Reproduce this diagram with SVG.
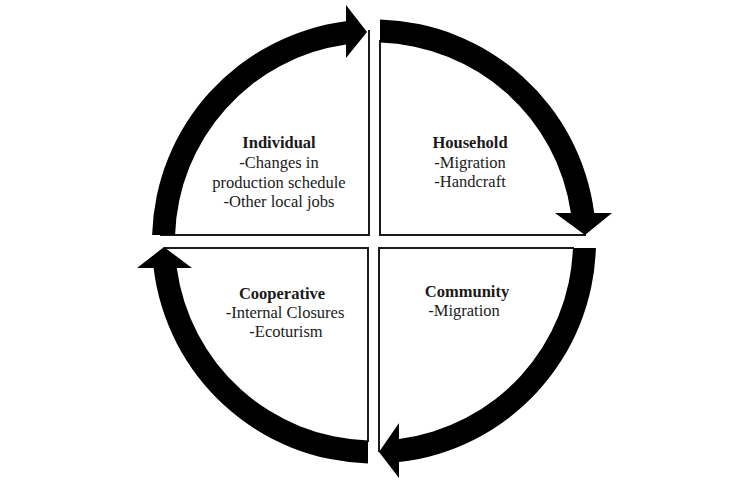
<svg xmlns="http://www.w3.org/2000/svg" width="743" height="494" viewBox="0 0 743 494">
<style>
.bg{fill:#ffffff}
.box{fill:none;stroke:#1a1a1a;stroke-width:2}
.arr{fill:#000000}
text{font-family:"Liberation Serif","Times New Roman",serif;font-size:16.5px;fill:#1a1a1a;text-anchor:middle}
.t{font-weight:bold}
</style>
<rect class="bg" x="0" y="0" width="743" height="494"/>
<g id="individual">
<path class="box" d="M160,235 H369 V30"/>
<text x="279" y="148" class="t">Individual</text>
<text x="279" y="168">-Changes in</text>
<text x="279" y="188">production schedule</text>
<text x="279" y="207">-Other local jobs</text>
</g>
<g id="household">
<path class="box" d="M380,40 V235 H586"/>
<text x="470" y="148" class="t">Household</text>
<text x="470" y="168">-Migration</text>
<text x="470" y="187">-Handcraft</text>
</g>
<g id="cooperative">
<path class="box" d="M164,248 H368 V442"/>
<text x="282" y="299" class="t">Cooperative</text>
<text x="285" y="318">-Internal Closures</text>
<text x="286" y="337">-Ecoturism</text>
</g>
<g id="community">
<path class="box" d="M574,248 H379 V452"/>
<text x="467" y="297" class="t">Community</text>
<text x="464" y="316">-Migration</text>
</g>
<g id="connectors">
<path class="arr" d="M152.1,235 A222,222 0 0 1 346,21.3 L346,5 L367,32 L346,58 L346,44.5 A199,199 0 0 0 175.1,235 Z"/>
<path class="arr" d="M380,19.6 A222,222 0 0 1 594.2,213 L612,213 L585,235 L555,213 L570.9,213 A199,199 0 0 0 380,42.6 Z"/>
<path class="arr" d="M595.9,248 A222,222 0 0 1 399,462.1 L399,478 L379,452 L399,423 L399,438.9 A199,199 0 0 0 572.9,248 Z"/>
<path class="arr" d="M368,463.4 A222,222 0 0 1 153.6,268 L137,268 L164,247 L192,268 L176.8,268 A199,199 0 0 0 368,440.4 Z"/>
</g>
</svg>
